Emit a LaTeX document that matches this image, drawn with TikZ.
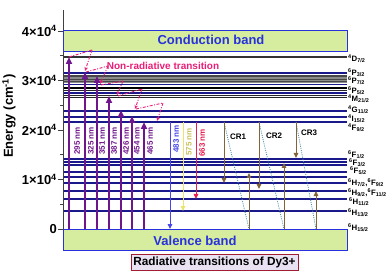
\documentclass[tikz,border=0pt]{standalone}
\usepackage{fontspec}
\setmainfont{Liberation Sans}
\usetikzlibrary{arrows.meta}
\definecolor{bandgreen}{RGB}{214,236,158}
\definecolor{bandblue}{RGB}{40,50,220}
\definecolor{lvlblue}{RGB}{25,25,140}
\definecolor{purp}{RGB}{112,22,140}
\definecolor{emblue}{RGB}{70,70,235}
\definecolor{emyellow}{RGB}{236,226,110}
\definecolor{emred}{RGB}{232,30,80}
\definecolor{crbrown}{RGB}{130,100,60}
\definecolor{crteal}{RGB}{70,140,165}
\definecolor{nrpink}{RGB}{232,30,120}
\definecolor{boxred}{RGB}{160,30,50}
\definecolor{boxfill}{RGB}{232,226,242}
\newcommand{\lvl}[3]{\textsuperscript{#1}#2\textsubscript{#3}}
\begin{document}
\begin{tikzpicture}[x=1pt,y=-1pt,
  band/.style={draw=bandblue, fill=bandgreen, line width=1pt},
  bandtext/.style={text=bandblue, font=\bfseries\fontsize{13}{15}\selectfont},
  lvl/.style={lvlblue, line width=1.2pt},
  blk/.style={black!85, line width=1.2pt},
  exc/.style={purp, line width=1.8pt, -{Triangle[length=7pt,width=6pt]}},
  emi/.style={line width=1pt, -{Triangle[length=5pt,width=4.5pt]}},
  crarr/.style={crbrown, line width=1pt, -{Triangle[length=5pt,width=4.5pt]}},
  crdot/.style={crteal, line width=0.8pt, dash pattern=on 1pt off 1.2pt},
  nr/.style={nrpink, line width=0.9pt, dash pattern=on 3pt off 1.5pt on 1pt off 1.5pt},
  nrarr/.style={nr, -{Stealth[length=4pt,width=3.5pt]}},
  wl/.style={rotate=90, font=\bfseries\fontsize{8}{9}\selectfont, inner sep=0pt},
  lvllab/.style={anchor=west, font=\bfseries\fontsize{7.8}{8}\selectfont, inner sep=0pt},
  ticklab/.style={anchor=east, font=\bfseries\fontsize{13}{15}\selectfont, inner sep=0pt},
  crlab/.style={font=\bfseries\fontsize{8}{9}\selectfont, inner sep=0pt}]
\useasboundingbox (0,0) rectangle (390,272);

% axis
\draw[black!75, line width=0.8pt] (63,10) -- (63,229);
\foreach \yy/\lab [count=\i] in {31/4×10\textsuperscript{4}, 80.5/3×10\textsuperscript{4}, 130/2×10\textsuperscript{4}, 179.5/1×10\textsuperscript{4}, 229/0} {
  \draw[black!75, line width=0.8pt] (58,\yy) -- (63,\yy);
  \node[ticklab] (tick\i) at (57,\yy) {\lab};
}
\foreach \yy in {55.75,105.25,154.75,204.25} \draw[black!75, line width=0.8pt] (60,\yy) -- (63,\yy);
\node[rotate=90, font=\bfseries\fontsize{13}{15}\selectfont] (ylab) at (9,116) {Energy (cm\textsuperscript{-1})};

% bands
\draw[band] (63,31) rectangle (347,52);
\node[bandtext] (cb) at (211,39.5) {Conduction band};
\draw[band] (63,229) rectangle (347,250);
\node[bandtext] (vb) at (195,240.5) {Valence band};

% levels
\draw[black!80, line width=1.4pt] (64,57) -- (347,57);
\draw[lvl] (64,73) -- (347,73);
\fill[black!72] (64,75.5) rectangle (347,83);
\foreach \yy in {76.8,78.6,80.4,82} \draw[black!45, line width=0.3pt] (64,\yy) -- (347,\yy);
\draw[lvl] (64,84.6) -- (347,84.6);
\draw[black, line width=1.6pt] (64,88.3) -- (347,88.3);
\draw[black!85, line width=1pt] (64,90.7) -- (347,90.7);
\draw[lvl] (64,93) -- (347,93);
\draw[blk] (64,95.3) -- (347,95.3);
\draw[blk] (64,97.6) -- (347,97.6);
\foreach \yy in {111,117,122,159,162,165,172,177,183,191,199,211}
  \draw[lvl] (64,\yy) -- (347,\yy);

% level labels
\node[lvllab] (L1) at (348,58.5) {\lvl{4}{D}{7/2}};
\node[lvllab] (L2) at (348,72.5) {\lvl{6}{P}{3/2}};
\node[lvllab] (L3) at (348,81) {\lvl{6}{P}{7/2}};
\node[lvllab] (L4) at (348,90.5) {\lvl{6}{P}{5/2}};
\node[lvllab] (L5) at (348,99) {\lvl{4}{M}{21/2}};
\node[lvllab] (L6) at (348,109.5) {\lvl{4}{G}{11/2}};
\node[lvllab] (L7) at (348,118.5) {\lvl{4}{I}{15/2}};
\node[lvllab] (L8) at (348,127.5) {\lvl{4}{F}{9/2}};
\node[lvllab] (L9) at (348,154.5) {\lvl{6}{F}{1/2}};
\node[lvllab] (L10) at (349,162.5) {\lvl{6}{F}{3/2}};
\node[lvllab] (L11) at (350,171) {\lvl{6}{F}{5/2}};
\node[lvllab] (L12) at (348,182.5) {\lvl{6}{H}{7/2},\lvl{6}{F}{9/2}};
\node[lvllab] (L13) at (348,192.5) {\lvl{6}{H}{9/2},\lvl{6}{F}{11/2}};
\node[lvllab] (L14) at (349,202) {\lvl{6}{H}{11/2}};
\node[lvllab] (L15) at (348,213) {\lvl{6}{H}{13/2}};
\node[lvllab] (L16) at (348,228) {\lvl{6}{H}{15/2}};

% excitation arrows
\foreach \n/\x/\t/\lx in {295/69/57/77, 325/85/72/91, 351/97/76/102, 387/109/96/114, 426/121/110/126, 454/132/116/137, 465/144/122/150} {
  \coordinate (b\n) at (\x,229);
  \coordinate (t\n) at (\x,\t);
  \draw[exc] (b\n) -- (t\n);
  \node[wl, text=purp] (l\n) at (\lx,141) {\n\ nm};
}

% emission arrows
\coordinate (s483) at (170,122); \coordinate (e483) at (170,229);
\coordinate (s575) at (183,122); \coordinate (e575) at (183,211);
\coordinate (s663) at (196,122); \coordinate (e663) at (196,199);
\draw[emi, emblue] (s483) -- (e483);
\draw[emi, emyellow] (s575) -- (e575);
\draw[emi, emred] (s663) -- (e663);
\node[wl, text=emblue] (l483) at (176,139) {483 nm};
\node[wl, text=emyellow!85!black] (l575) at (189,142) {575 nm};
\node[wl, text=emred] (l663) at (202,143) {663 nm};

% cross relaxation
\foreach \k/\xa/\ya/\xb/\yb/\lx/\ly in {1/224/183/249/173/238/137, 2/259/189/284/163/274/136, 3/296/158/316/191/309/133} {
  \coordinate (cra\k) at (\xa,122);
  \coordinate (crb\k) at (\xa,\ya);
  \coordinate (crc\k) at (\xb,229);
  \coordinate (crd\k) at (\xb,\yb);
  \draw[crdot] (cra\k) -- (crc\k);
  \draw[crarr] (cra\k) -- (crb\k);
  \draw[crarr] (crc\k) -- (crd\k);
  \node[crlab] (crl\k) at (\lx,\ly) {CR\k};
}

% non-radiative transitions
\coordinate (n0) at (69,57);  \coordinate (m1) at (92,50);  \coordinate (n1) at (85,71);
\coordinate (n1b) at (86,72); \coordinate (m2) at (108,66); \coordinate (n2) at (100,84);
\coordinate (n2b) at (101,85); \coordinate (m3) at (123,81); \coordinate (n3) at (117,95);
\coordinate (n3b) at (118,96); \coordinate (m4) at (142,89); \coordinate (n4) at (135,109);
\coordinate (n4b) at (136,109); \coordinate (m5) at (163,103); \coordinate (n5) at (157,121);
\draw[nr] (n0) -- (m1); \draw[nrarr] (m1) -- (n1);
\draw[nr] (n1b) -- (m2); \draw[nrarr] (m2) -- (n2);
\draw[nr] (n2b) -- (m3); \draw[nrarr] (m3) -- (n3);
\draw[nr] (n3b) -- (m4); \draw[nrarr] (m4) -- (n4);
\draw[nr] (n4b) -- (m5); \draw[nrarr] (m5) -- (n5);
\node[text=nrpink, font=\bfseries\fontsize{10}{12}\selectfont, inner sep=0pt] (nrl) at (163,66) {Non-radiative transition};

% bottom box
\node[draw=boxred, fill=boxfill, line width=1pt, minimum width=167pt, minimum height=16pt, inner sep=0pt, font=\bfseries\fontsize{11.8}{14}\selectfont] (title) at (214.5,262) {Radiative transitions of Dy3+};
\end{tikzpicture}
\end{document}
